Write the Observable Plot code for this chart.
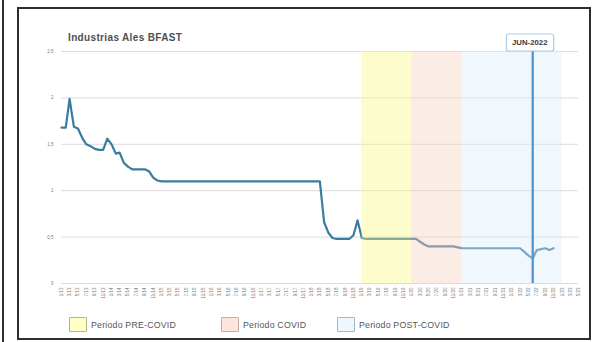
<!DOCTYPE html>
<html>
<head>
<meta charset="utf-8">
<script src="https://cdn.jsdelivr.net/npm/d3@7"></script>
<script src="https://cdn.jsdelivr.net/npm/@observablehq/plot@0.6"></script>
<style>
  body { margin: 0; background: #fff; font-family: "Liberation Sans", Arial, sans-serif; }
  #page { position: relative; width: 594px; height: 342px; overflow: hidden; background: #fff; }
  .side { position: absolute; left: 2px; top: 0; width: 2px; height: 342px; background: #2e2e2e; }
  .frame { position: absolute; left: 17px; top: 7px; width: 574px; height: 333px; border: 2px solid #2e2e2e; box-sizing: border-box; }
  .title { position: absolute; left: 68px; top: 32px; font-size: 10px; letter-spacing: 0.35px; font-weight: bold; color: #505050; }
  #chart { position: absolute; left: 20px; top: 30px; }
  .item { position: absolute; top: 317px; display: flex; align-items: center; font-size: 8.8px; letter-spacing: 0.2px; color: #555; }
  .item:nth-child(1) { left: 69px; }
  .item:nth-child(2) { left: 221px; }
  .item:nth-child(3) { left: 337px; }
  .sw { width: 18px; height: 15px; margin-right: 4px; border: 1px solid; border-radius: 1px; box-sizing: border-box; }
</style>
</head>
<body>
<div id="page">
  <div class="side"></div>
  <div class="frame"></div>
  <div class="title">Industrias Ales BFAST</div>
  <div id="chart"></div>
  <div id="legend"></div>
</div>
<script>
// Monthly BFAST trend, starting January 2013
const startYear = 2013;
const startMonth = 0;
const values = [
  1.68, 1.68, 1.99, 1.69, 1.67, 1.57, 1.50, 1.48, 1.45, 1.44, 1.44, 1.56,
  1.50, 1.40, 1.41, 1.30, 1.26, 1.23, 1.23, 1.23, 1.23, 1.21, 1.14, 1.11,
  1.10, 1.10, 1.10, 1.10, 1.10, 1.10, 1.10, 1.10, 1.10, 1.10, 1.10, 1.10,
  1.10, 1.10, 1.10, 1.10, 1.10, 1.10, 1.10, 1.10, 1.10, 1.10, 1.10, 1.10,
  1.10, 1.10, 1.10, 1.10, 1.10, 1.10, 1.10, 1.10, 1.10, 1.10, 1.10, 1.10,
  1.10, 1.10, 1.10, 0.66, 0.55, 0.49, 0.48, 0.48, 0.48, 0.48, 0.52, 0.68,
  0.49, 0.48, 0.48, 0.48, 0.48, 0.48, 0.48, 0.48, 0.48, 0.48, 0.48, 0.48,
  0.48, 0.48, 0.45, 0.42, 0.40, 0.40, 0.40, 0.40, 0.40, 0.40, 0.40, 0.39,
  0.38, 0.38, 0.38, 0.38, 0.38, 0.38, 0.38, 0.38, 0.38, 0.38, 0.38, 0.38,
  0.38, 0.38, 0.38, 0.34, 0.30, 0.27, 0.36, 0.37, 0.38, 0.36, 0.38
];

// Periods shaded over the series
const periodNames = ["Periodo PRE-COVID", "Periodo COVID", "Periodo POST-COVID"];
const periodStart = ["2019-01-01", "2020-01-01", "2021-01-01"];
const periodEnd   = ["2020-01-01", "2021-01-01", "2023-01-01"];
const periodFill  = ["#faf77f", "#f5cfc0", "#d9eefa"];
const swatchFill  = ["#ffffc6", "#fbe6de", "#eef7fd"];
const swatchLine  = ["#b3b38c", "#c4aca4", "#a9b6bf"];

// Highlighted month
const markerDate = "2022-06-01";
const markerText = "JUN-2022";

// Axes
const yTicks = [0, 0.5, 1, 1.5, 2, 2.5];
const axisStart = "2013-01-01";
const axisEnd = "2023-05-01";

const series = values.map((v, i) => ({
  date: new Date(Date.UTC(startYear, startMonth + i, 1)),
  value: v
}));
const periods = periodNames.map((name, i) => ({
  name, start: new Date(periodStart[i]), end: new Date(periodEnd[i]), fill: periodFill[i]
}));
const tickDates = d3.utcMonth.every(2).range(new Date(axisStart), d3.utcDay.offset(new Date(axisEnd), 1));
const marker = new Date(markerDate);

const chart = Plot.plot({
  width: 566,
  height: 280,
  marginLeft: 41,
  marginRight: 8,
  marginTop: 21,
  marginBottom: 27,
  style: { fontFamily: "Liberation Sans, Arial, sans-serif", fontSize: "4.5px", color: "#7a7a7a", background: "transparent", overflow: "visible" },
  x: { type: "utc", domain: [new Date(axisStart), new Date(axisEnd)] },
  y: { domain: [0, 2.5] },
  marks: [
    Plot.gridY(yTicks, { stroke: "#dcdcdc", strokeOpacity: 1, strokeWidth: 1 }),
    Plot.axisY(yTicks, { tickSize: 0, tickPadding: 8, tickFormat: d => String(d).replace(".", ","), label: null }),
    Plot.axisX(tickDates, {
      tickSize: 0, tickPadding: 4, tickRotate: -90, label: null,
      tickFormat: d => `${d.getUTCMonth() + 1}/${String(d.getUTCFullYear()).slice(2)}`
    }),
    Plot.line(series, { x: "date", y: "value", stroke: "#3a7ca0", strokeWidth: 2.2, curve: "linear" }),
    Plot.rect(periods, { x1: "start", x2: "end", y1: 0, y2: 2.5, fill: "fill", fillOpacity: 0.4 }),
    Plot.ruleX([marker], { y1: 0, y2: 2.5, stroke: "#4f96d6", strokeWidth: 2.3 }),
    Plot.text([marker], { x: d => d, y: 2.5, text: () => markerText, dy: -9, dx: -3, fontSize: 7.8, fontWeight: "bold", fill: "#3a3a3a" })
  ]
});
document.getElementById("chart").append(chart);

// Boxed background for the highlighted month label
d3.select(chart).selectAll("text").filter(function () { return this.textContent === markerText; }).each(function () {
  const b = this.getBBox();
  const tf = this.getAttribute("transform");
  const r = document.createElementNS("http://www.w3.org/2000/svg", "rect");
  r.setAttribute("x", b.x - 5.5);
  r.setAttribute("y", b.y - 4);
  r.setAttribute("width", b.width + 11);
  r.setAttribute("height", b.height + 8);
  r.setAttribute("rx", 2);
  r.setAttribute("fill", "#fff");
  r.setAttribute("stroke", "#a9cbe8");
  r.setAttribute("stroke-width", 1.2);
  if (tf) r.setAttribute("transform", tf);
  this.parentNode.insertBefore(r, this);
});

// Legend
const legend = document.getElementById("legend");
periodNames.forEach((name, i) => {
  const item = document.createElement("div");
  item.className = "item";
  const sw = document.createElement("div");
  sw.className = "sw";
  sw.style.background = swatchFill[i];
  sw.style.borderColor = swatchLine[i];
  const label = document.createElement("span");
  label.textContent = name;
  item.append(sw, label);
  legend.append(item);
});
</script>
</body>
</html>
